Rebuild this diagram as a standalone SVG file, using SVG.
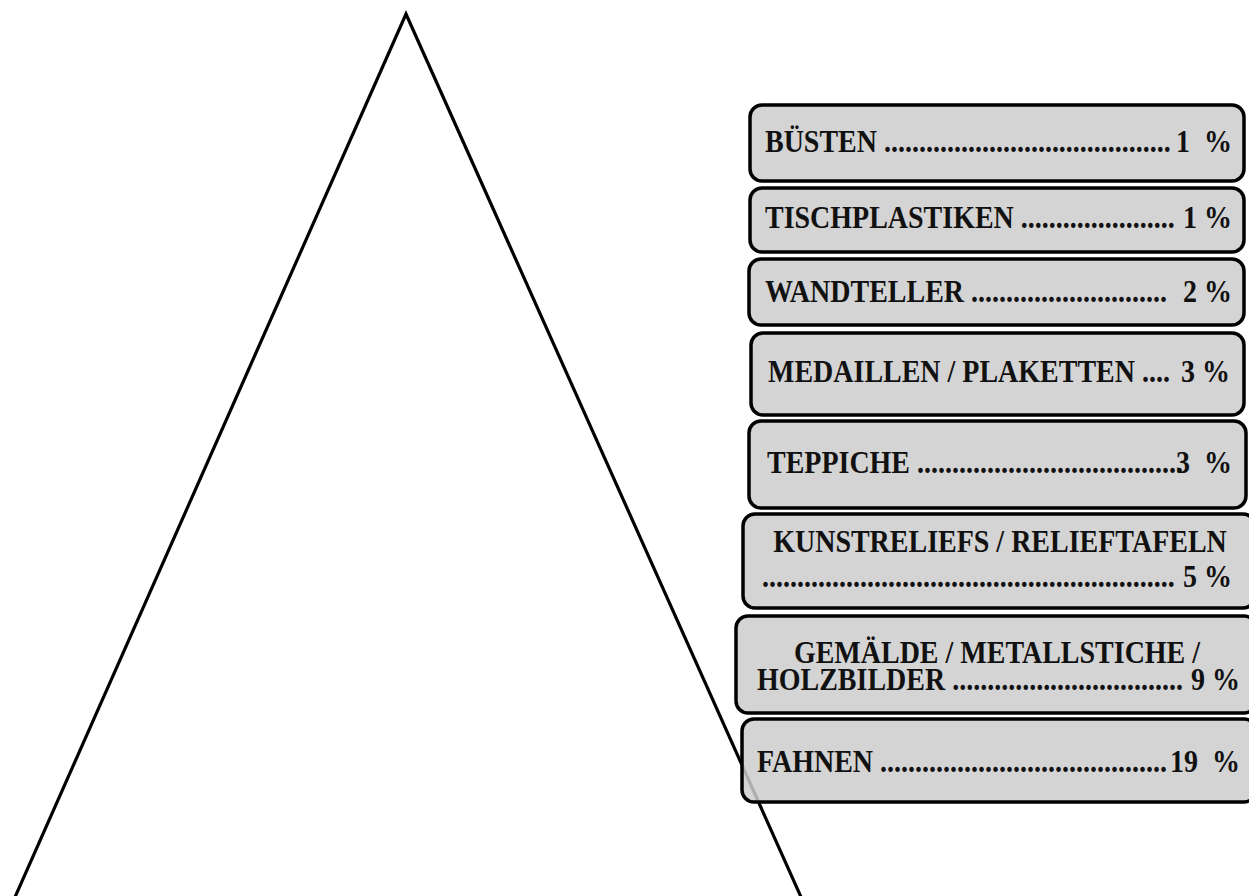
<svg xmlns="http://www.w3.org/2000/svg" width="1249" height="896" viewBox="0 0 1249 896">
<style>
.box{fill:#cccccc;fill-opacity:0.85;stroke:#000;stroke-width:3.5}
.t{font-family:"Liberation Serif","Times New Roman",serif;font-weight:bold;font-size:28px;fill:#111;white-space:pre}
</style>
<rect width="1249" height="896" fill="#fff"/>
<g id="pyramid">
<polyline points="0,931 406,14 818,935" fill="none" stroke="#000" stroke-width="3.2"/>
</g>
<g id="n1"><rect class="box" x="750" y="105" width="494" height="76" rx="12"/>
<g transform="translate(0,152) scale(1,1.15)"><text class="t"><tspan x="765">BÜSTEN </tspan><tspan>.........................................</tspan><tspan x="1232" text-anchor="end">1  %</tspan></text></g></g>
<g id="n2"><rect class="box" x="750" y="188" width="494" height="64" rx="12"/>
<g transform="translate(0,228) scale(1,1.15)"><text class="t"><tspan x="765">TISCHPLASTIKEN </tspan><tspan>......................</tspan><tspan x="1232" text-anchor="end">1 %</tspan></text></g></g>
<g id="n3"><rect class="box" x="749" y="259" width="495" height="66" rx="12"/>
<g transform="translate(0,302) scale(1,1.15)"><text class="t"><tspan x="765">WANDTELLER </tspan><tspan>............................</tspan><tspan x="1232" text-anchor="end">2 %</tspan></text></g></g>
<g id="n4"><rect class="box" x="751" y="333" width="493" height="82" rx="12"/>
<g transform="translate(0,382) scale(1,1.15)"><text class="t"><tspan x="768">MEDAILLEN / PLAKETTEN </tspan><tspan>....</tspan><tspan x="1230" text-anchor="end">3 %</tspan></text></g></g>
<g id="n5"><rect class="box" x="749" y="421" width="497" height="87" rx="12"/>
<g transform="translate(0,473) scale(1,1.15)"><text class="t"><tspan x="767">TEPPICHE </tspan><tspan>......................................</tspan><tspan x="1232" text-anchor="end">3  %</tspan></text></g></g>
<g id="n6"><rect class="box" x="743" y="514" width="512" height="94" rx="12"/>
<g transform="translate(0,552) scale(1,1.15)"><text class="t" x="1000" text-anchor="middle">KUNSTRELIEFS / RELIEFTAFELN</text></g>
<g transform="translate(0,587) scale(1,1.15)"><text class="t"><tspan x="762">...........................................................</tspan><tspan x="1232" text-anchor="end">5 %</tspan></text></g></g>
<g id="n7"><rect class="box" x="736" y="616" width="520" height="97" rx="12"/>
<g transform="translate(0,663) scale(1,1.15)"><text class="t" x="997" text-anchor="middle">GEMÄLDE / METALLSTICHE /</text></g>
<g transform="translate(0,690) scale(1,1.15)"><text class="t"><tspan x="757">HOLZBILDER </tspan><tspan>.................................</tspan><tspan x="1240" text-anchor="end">9 %</tspan></text></g></g>
<g id="n8"><rect class="box" x="742" y="719" width="514" height="83" rx="12"/>
<g transform="translate(0,772) scale(1,1.15)"><text class="t"><tspan x="757">FAHNEN </tspan><tspan>.........................................</tspan><tspan x="1240" text-anchor="end">19  %</tspan></text></g></g>
<g id="connectors"/>
</svg>
